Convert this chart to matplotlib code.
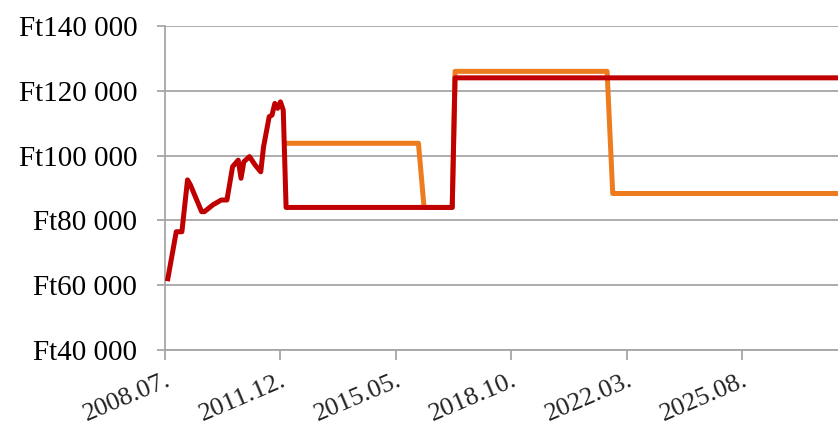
import numpy as np
import matplotlib.pyplot as plt

# data, dates as "YYYY.MM"
red_dates = ["2008.08", "2008.11", "2009.01", "2009.03", "2009.04", "2009.08",
             "2009.09", "2009.12", "2010.03", "2010.05", "2010.07", "2010.09",
             "2010.10", "2010.11", "2011.01", "2011.03", "2011.05", "2011.06",
             "2011.08", "2011.09", "2011.10", "2011.11", "2011.12", "2012.01",
             "2012.02", "2017.01", "2017.02", "2028.12"]
red_values = [62000, 76500, 76500, 92500, 91000, 82700,
              82700, 84800, 86300, 86300, 96600, 98600,
              93000, 98100, 99700, 97100, 95000, 102700,
              112000, 112500, 116100, 114600, 116600, 114000,
              84000, 84000, 124000, 124000]

orange_dates = ["2012.02", "2016.01", "2016.03", "2017.01", "2017.02",
                "2021.08", "2021.10", "2028.12"]
orange_values = [103800, 103800, 84000, 84000, 126000,
                 126000, 88300, 88300]

tick_labels = ["2008.07.", "2011.12.", "2015.05.", "2018.10.", "2022.03.", "2025.08."]
y_ticks = [40000, 60000, 80000, 100000, 120000, 140000]

RED = "#C00000"
ORANGE = "#EC7C1E"
GRID = "#A6A6A6"


def month_index(s):
    y, m = s.rstrip(".").split(".")
    return (int(y) - 2008) * 12 + (int(m) - 7)


red_x = np.array([month_index(d) for d in red_dates])
orange_x = np.array([month_index(d) for d in orange_dates])
tick_x = [month_index(t) for t in tick_labels]

fig = plt.figure(figsize=(8.38, 4.30), dpi=100)
ax = fig.add_axes([165 / 838, 1 - 350 / 430, 1 - 165 / 838, (350 - 26) / 430])

ax.plot(orange_x, orange_values, color=ORANGE, lw=3.6, solid_joinstyle="round", zorder=3)
ax.plot(red_x, red_values, color=RED, lw=3.6, solid_joinstyle="round", zorder=4)

ax.set_xlim(0, 239)
ax.set_ylim(40000, 140000)
ax.set_yticks(y_ticks)
ax.set_yticklabels([f"Ft{v // 1000} 000" for v in y_ticks])
ax.set_xticks(tick_x)
ax.set_xticklabels(tick_labels, rotation=23, ha="right", rotation_mode="anchor")

for lab in ax.get_yticklabels():
    lab.set_fontfamily("Liberation Serif")
    lab.set_fontsize(21)
for lab in ax.get_xticklabels():
    lab.set_fontfamily("Liberation Serif")
    lab.set_fontsize(19)
    lab.set_color("#222222")

ax.grid(True, axis="y", color=GRID, lw=1.3)
ax.set_axisbelow(True)
for side in ["top", "right"]:
    ax.spines[side].set_visible(False)
for side in ["left", "bottom"]:
    ax.spines[side].set_color(GRID)
    ax.spines[side].set_linewidth(1.3)
ax.tick_params(axis="y", length=6, width=1.3, color=GRID, pad=14)
ax.tick_params(axis="x", length=7, width=1.3, color=GRID, pad=7)

fig.savefig("out.png", dpi=100)
